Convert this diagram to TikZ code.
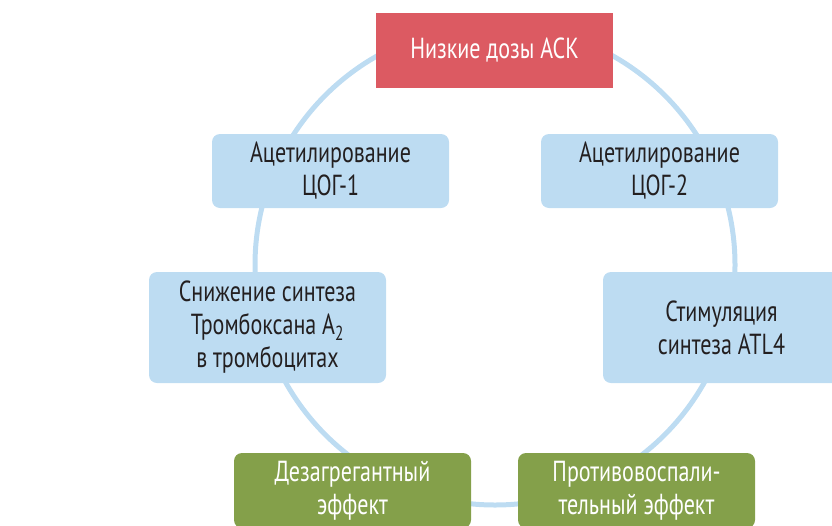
\documentclass[tikz,border=0pt]{standalone}
\usepackage{fontspec}
\setmainfont{PT Sans}[FakeStretch=0.76]
\usepackage{tikz}
\usetikzlibrary{shapes}

\definecolor{ringblue}{HTML}{BDDCF2}
\definecolor{boxblue}{HTML}{BDDCF2}
\definecolor{topred}{HTML}{DC5A62}
\definecolor{effgreen}{HTML}{84A04A}
\definecolor{txtdark}{HTML}{231F20}

\begin{document}
\begin{tikzpicture}[x=1pt,y=-1pt]
      \tikzstyle{ring} = [line width=5pt,draw=ringblue]
      \tikzstyle{box}=[
        rectangle,
        rounded corners=8pt,
        fill=boxblue,
        text=txtdark,
        align=center,
        inner sep=0pt,
        minimum width=237pt,
        font=\fontsize{29}{33}\selectfont,
      ]
      \tikzstyle{dose} = [box,rounded corners=0pt,fill=topred,text=white,minimum height=75pt]
      \tikzstyle{effect} = [box,fill=effgreen,text=white,minimum height=75pt]

      \useasboundingbox (0,0) rectangle (832,525);
      \clip (0,0) rectangle (832,525);

      \draw[ring] (495,265) circle[radius=240pt];

      \node[dose] (aspirin) at (494.5,50.5) {Низкие дозы АСК};
      \node[box,minimum height=74pt] (cox1) at (330.5,171) {Ацетилирование\\ЦОГ-1};
      \node[box,minimum height=74pt] (cox2) at (659.5,171) {Ацетилирование\\ЦОГ-2};
      \node[box,minimum height=111pt] (txa) at (267.5,327.5) {Снижение синтеза\\Тромбоксана А\textsubscript{2}\\в тромбоцитах};
      \node[box,minimum height=111pt] (atl) at (721.5,327.5) {Стимуляция\\синтеза ATL4};
      \node[effect] (antiagg) at (352.5,490.5) {Дезагрегантный\\эффект};
      \node[effect] (antiinfl) at (636.5,490.5) {Противовоспали-\\тельный эффект};
    \end{tikzpicture}
\end{document}
